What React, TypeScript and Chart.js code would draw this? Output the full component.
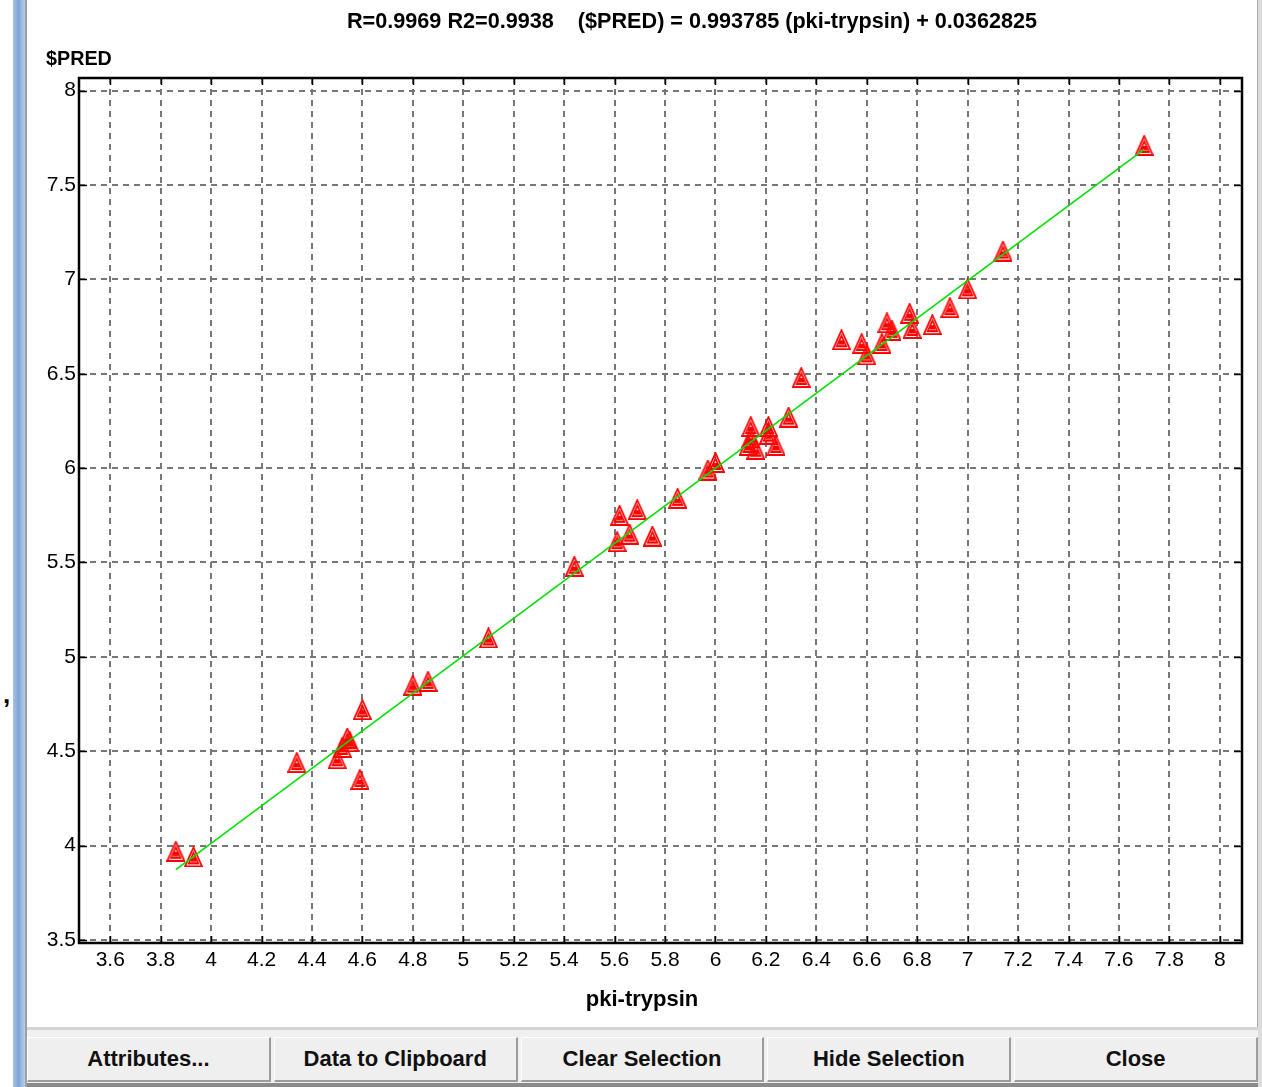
import React, { useEffect, useRef } from "react";
import { Chart, registerables } from "chart.js";

Chart.register(...registerables);

// ---- data ----
const xValues = [
  3.86, 3.93, 4.34, 4.5, 4.52, 4.54, 4.55, 4.59, 4.6, 4.8, 4.86, 5.1, 5.44, 5.61,
  5.62, 5.66, 5.69, 5.75, 5.85, 5.97, 6.0, 6.13, 6.14, 6.14, 6.16, 6.21, 6.21,
  6.24, 6.29, 6.34, 6.5, 6.58, 6.6, 6.66, 6.68, 6.7, 6.77, 6.78, 6.86, 6.93, 7.0,
  7.14, 7.7,
];
const yValues = [
  3.97, 3.94, 4.44, 4.46, 4.52, 4.57, 4.55, 4.35, 4.72, 4.85, 4.87, 5.1, 5.48, 5.61,
  5.75, 5.65, 5.78, 5.64, 5.84, 5.99, 6.03, 6.12, 6.16, 6.22, 6.1, 6.22, 6.18,
  6.12, 6.27, 6.48, 6.68, 6.66, 6.6, 6.66, 6.77, 6.73, 6.82, 6.74, 6.76, 6.85, 6.95,
  7.15, 7.71,
];
const fitSlope = 0.993785;
const fitIntercept = 0.0362825;

const xTicks = [3.6, 3.8, 4, 4.2, 4.4, 4.6, 4.8, 5, 5.2, 5.4, 5.6, 5.8, 6, 6.2, 6.4, 6.6, 6.8, 7, 7.2, 7.4, 7.6, 7.8, 8];
const xTickLabels = ["3.6", "3.8", "4", "4.2", "4.4", "4.6", "4.8", "5", "5.2", "5.4", "5.6", "5.8", "6", "6.2", "6.4", "6.6", "6.8", "7", "7.2", "7.4", "7.6", "7.8", "8"];
const yTicks = [3.5, 4, 4.5, 5, 5.5, 6, 6.5, 7, 7.5, 8];
const yTickLabels = ["3.5", "4", "4.5", "5", "5.5", "6", "6.5", "7", "7.5", "8"];

const xMin = 3.476;
const xMax = 8.088;
const yMin = 3.484;
const yMax = 8.067;

const titleText = "R=0.9969 R2=0.9938    ($PRED) = 0.993785 (pki-trypsin) + 0.0362825";
const yAxisTitle = "$PRED";
const xAxisTitle = "pki-trypsin";
const buttonLabels = ["Attributes...", "Data to Clipboard", "Clear Selection", "Hide Selection", "Close"];

const FONT = "'Liberation Sans', Arial, Helvetica, sans-serif";

function makeMarker(): HTMLCanvasElement {
  const c = document.createElement("canvas");
  c.width = 19;
  c.height = 21;
  const g = c.getContext("2d")!;
  g.strokeStyle = "#ff0000";
  g.fillStyle = "#ff0000";
  g.lineWidth = 1.8;
  g.lineJoin = "miter";
  g.beginPath();
  g.moveTo(9.5, 1);
  g.lineTo(18, 20);
  g.lineTo(1, 20);
  g.closePath();
  g.stroke();
  g.beginPath();
  g.moveTo(9.5, 6.5);
  g.lineTo(14.2, 17);
  g.lineTo(4.8, 17);
  g.closePath();
  g.stroke();
  g.fillRect(7, 11, 5, 4.5);
  return c;
}

const framePlugin = {
  id: "frame",
  beforeDatasetsDraw(chart: any) {
    const { ctx, chartArea: a, scales } = chart;
    ctx.save();
    ctx.strokeStyle = "#000";
    ctx.lineWidth = 1.5;
    ctx.beginPath();
    for (const v of xTicks) {
      const px = Math.round(scales.x.getPixelForValue(v)) + 0.5;
      ctx.moveTo(px, a.bottom);
      ctx.lineTo(px, a.bottom - 7);
      ctx.moveTo(px, a.top);
      ctx.lineTo(px, a.top + 7);
    }
    for (const v of yTicks) {
      const py = Math.round(scales.y.getPixelForValue(v)) + 0.5;
      ctx.moveTo(a.left, py);
      ctx.lineTo(a.left + 8, py);
      ctx.moveTo(a.right, py);
      ctx.lineTo(a.right - 8, py);
    }
    ctx.stroke();
    ctx.lineWidth = 2.5;
    ctx.strokeRect(a.left, a.top, a.right - a.left, a.bottom - a.top);
    ctx.restore();
  },
};

export default function App() {
  const ref = useRef<HTMLCanvasElement | null>(null);

  useEffect(() => {
    if (!ref.current) return;
    const marker = makeMarker();
    const points = xValues.map((x, i) => ({ x, y: yValues[i] }));
    const lx0 = Math.min(...xValues);
    const lx1 = Math.max(...xValues);
    const fitLine = [
      { x: lx0, y: fitSlope * lx0 + fitIntercept },
      { x: lx1, y: fitSlope * lx1 + fitIntercept },
    ];
    const chart = new Chart(ref.current, {
      type: "scatter",
      data: {
        datasets: [
          {
            label: "fit",
            data: fitLine,
            showLine: true,
            borderColor: "#00e000",
            borderWidth: 1.6,
            pointRadius: 0,
            order: 0,
          } as any,
          {
            label: "points",
            data: points,
            pointStyle: marker,
            pointRadius: 3,
            order: 1,
          } as any,
        ],
      },
      options: {
        responsive: false,
        animation: false,
        devicePixelRatio: 1,
        events: [],
        layout: { padding: { left: 0, right: 16, top: 78, bottom: 0 } },
        plugins: {
          legend: { display: false },
          tooltip: { enabled: false },
        },
        scales: {
          x: {
            type: "linear",
            min: xMin,
            max: xMax,
            afterBuildTicks: (s: any) => {
              s.ticks = xTicks.map((v) => ({ value: v }));
            },
            afterFit: (s: any) => {
              s.height = 84;
            },
            grid: { color: "#777777", lineWidth: 2, drawTicks: false },
            border: { display: false, dash: [6, 5] },
            ticks: {
              autoSkip: false,
              maxRotation: 0,
              padding: 5,
              color: "#000",
              font: { family: FONT, size: 21 },
              callback: (_v: any, i: number) => xTickLabels[i],
            },
          },
          y: {
            type: "linear",
            min: yMin,
            max: yMax,
            afterBuildTicks: (s: any) => {
              s.ticks = yTicks.map((v) => ({ value: v }));
            },
            afterFit: (s: any) => {
              s.width = 52;
            },
            grid: { color: "#777777", lineWidth: 2, drawTicks: false },
            border: { display: false, dash: [6, 5] },
            ticks: {
              autoSkip: false,
              padding: 3,
              color: "#000",
              font: { family: FONT, size: 21 },
              callback: (_v: any, i: number) => yTickLabels[i],
            },
          },
        },
      } as any,
      plugins: [framePlugin],
    });
    return () => chart.destroy();
  }, []);

  return (
    <div
      style={{
        position: "fixed",
        left: 0,
        top: 0,
        width: 1262,
        height: 1087,
        background: "#fff",
        overflow: "hidden",
        fontFamily: FONT,
        color: "#000",
      }}
    >
      <div style={{ position: "absolute", left: 13, top: 0, width: 12, height: 1087, background: "linear-gradient(to right, #a8c4e6, #7ea4d6 45%, #b9d0ec)" }} />
      <div style={{ position: "absolute", left: 25, top: 0, width: 2, height: 1087, background: "#a0a0a0" }} />
      <div style={{ position: "absolute", left: 1257, top: 0, width: 5, height: 1087, background: "#dcdcdc", borderLeft: "1px solid #a8a8a8", boxSizing: "border-box" }} />
      <canvas
        ref={ref}
        width={1231}
        height={1027}
        style={{ position: "absolute", left: 27, top: 0, width: 1231, height: 1027 }}
      />
      <div
        style={{
          position: "absolute",
          left: 692,
          top: 10,
          fontSize: 22,
          lineHeight: "22px",
          fontWeight: "bold",
          whiteSpace: "pre",
          transform: "translateX(-50%) scaleX(0.983)",
          transformOrigin: "center",
        }}
      >
        {titleText}
      </div>
      <div style={{ position: "absolute", left: 46, top: 47, fontSize: 21, lineHeight: "21px", fontWeight: "bold", whiteSpace: "pre", transform: "scaleX(0.94)", transformOrigin: "left" }}>
        {yAxisTitle}
      </div>
      <div style={{ position: "absolute", left: 642, top: 988, fontSize: 22, lineHeight: "22px", fontWeight: "bold", whiteSpace: "pre", transform: "translateX(-50%)" }}>
        {xAxisTitle}
      </div>
      <div style={{ position: "absolute", left: 3, top: 681, fontSize: 26, lineHeight: "26px", fontWeight: "bold" }}>,</div>
      <div style={{ position: "absolute", left: 27, top: 1027, width: 1231, height: 60, background: "#f0f0f0", borderTop: "3px solid #d4d4d4", boxSizing: "border-box" }}>
        <div style={{ position: "absolute", left: 0, top: 7, width: 1231, height: 45, display: "flex", gap: 3 }}>
          {buttonLabels.map((b) => (
            <div
              key={b}
              style={{
                flex: 1,
                boxSizing: "border-box",
                background: "#efefef",
                borderTop: "1px solid #ffffff",
                borderLeft: "1px solid #ffffff",
                borderRight: "2px solid #9c9c9c",
                borderBottom: "2px solid #9c9c9c",
                display: "flex",
                alignItems: "center",
                justifyContent: "center",
                fontSize: 22,
                fontWeight: "bold",
                color: "#111",
                whiteSpace: "pre",
              }}
            >
              {b}
            </div>
          ))}
        </div>
        <div style={{ position: "absolute", left: 0, top: 53, width: 1231, height: 4, background: "#8a8a8a" }} />
      </div>
    </div>
  );
}
